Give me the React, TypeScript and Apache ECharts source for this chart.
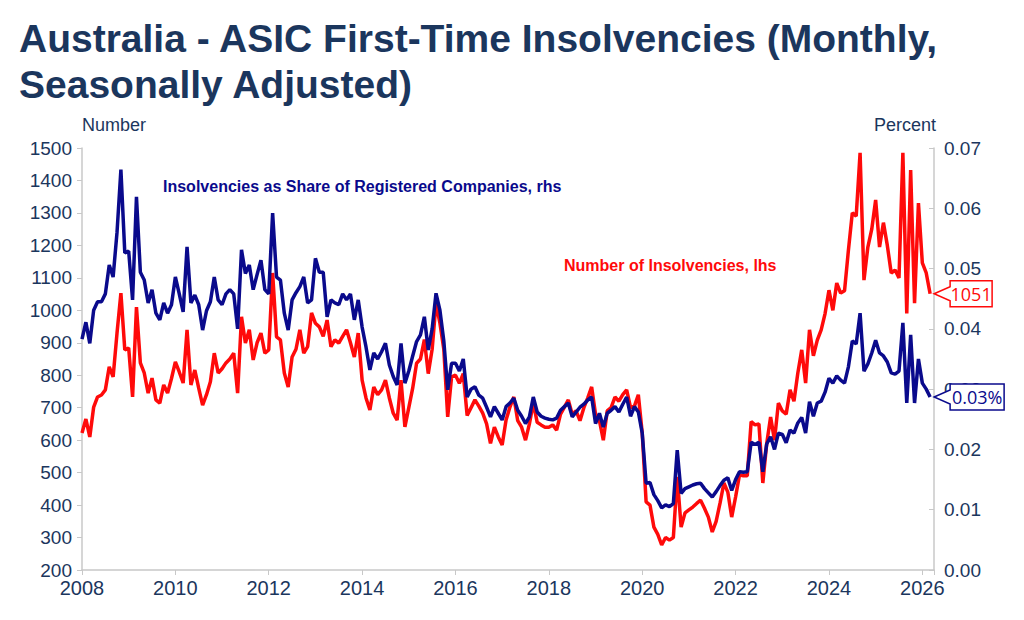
import React, { useEffect, useRef } from "react";
import * as echarts from "echarts";

const START_YEAR = 2008;
const xTicks = [2008, 2010, 2012, 2014, 2016, 2018, 2020, 2022, 2024, 2026];

// Number of insolvencies (lhs), monthly from Jan 2008
const insolvencies: number[] = [
  622, 665, 610, 702, 733, 739, 755, 826, 795, 930, 1053, 878,
  884, 733, 1010, 838, 807, 745, 791, 724, 714, 770, 745, 790,
  841, 810, 776, 940, 770, 816, 760, 708, 740, 780, 868, 807,
  820, 838, 850, 868, 745, 980, 899, 940, 847, 900, 930, 868,
  878, 1115, 918, 909, 807, 764, 856, 880, 940, 868, 888, 992,
  960, 949, 920, 970, 888, 909, 899, 920, 940, 900, 856, 930,
  785, 730, 693, 764, 740, 755, 785, 730, 683, 662, 785, 641,
  700, 760, 837, 850, 910, 805, 880, 1022, 960, 880, 672, 795,
  800, 775, 805, 676, 700, 724, 705, 683, 650, 590, 640, 610,
  585, 662, 702, 733, 660, 640, 600, 650, 715, 655, 647, 640,
  640, 647, 631, 680, 702, 724, 680, 690, 660, 700, 730, 764,
  680, 660, 600, 690, 700, 733, 720, 740, 755, 700, 705, 740,
  622, 410, 400, 332, 310, 277, 300, 292, 300, 487, 332, 376,
  385, 394, 405, 415, 390, 363, 317, 350, 406, 468, 440, 363,
  425, 493, 490, 490, 657, 647, 650, 468, 590, 671, 600, 714,
  690, 680, 755, 720, 807, 878, 776, 940, 860, 908, 940, 990,
  1062, 1000, 1084, 1053, 1060, 1185, 1300, 1290, 1485, 1093, 1195, 1250,
  1340, 1195, 1270, 1200, 1115, 1124, 1100, 1485, 990, 1432, 1022, 1330,
  1146, 1115, 1051,
];

// Insolvencies as share of registered companies (rhs, percent)
const share: number[] = [
  0.0383, 0.0411, 0.0376, 0.0431, 0.0445, 0.0445, 0.0458, 0.0506, 0.0486, 0.056, 0.0664, 0.0526,
  0.0529, 0.0448, 0.0619, 0.0494, 0.0481, 0.0443, 0.0465, 0.0426, 0.0415, 0.0443, 0.0426, 0.044,
  0.0486, 0.0458, 0.0428, 0.0536, 0.0443, 0.0456, 0.044, 0.0398, 0.043, 0.0445, 0.0486, 0.0448,
  0.044, 0.0458, 0.0465, 0.0458, 0.04, 0.0531, 0.0492, 0.0506, 0.0465, 0.049, 0.0514, 0.0465,
  0.0458, 0.0592, 0.0486, 0.0481, 0.0426, 0.0398, 0.0448, 0.046, 0.047, 0.0486, 0.0443, 0.0448,
  0.0517, 0.0494, 0.0494, 0.042, 0.0448, 0.0443, 0.044, 0.0458, 0.0448, 0.0458, 0.0415, 0.0448,
  0.0403, 0.037, 0.0332, 0.036, 0.035, 0.0362, 0.0376, 0.034, 0.0321, 0.0307, 0.0376, 0.031,
  0.033, 0.0355, 0.0379, 0.039, 0.042, 0.0365, 0.04, 0.0459, 0.0431, 0.038, 0.0299, 0.0343,
  0.0343, 0.033, 0.035, 0.0287, 0.03, 0.0304, 0.029, 0.0285, 0.027, 0.0254, 0.0271, 0.026,
  0.0249, 0.0271, 0.0277, 0.0285, 0.0265, 0.0255, 0.0243, 0.0254, 0.0287, 0.0262, 0.0255, 0.0252,
  0.025, 0.0249, 0.0252, 0.0265, 0.0271, 0.0277, 0.0254, 0.0262, 0.027, 0.0275, 0.0282, 0.0287,
  0.0243, 0.026, 0.0237, 0.026, 0.0265, 0.0271, 0.0262, 0.0275, 0.0287, 0.0255, 0.0271, 0.0262,
  0.0227, 0.0144, 0.0145, 0.0125, 0.0115, 0.0103, 0.0108, 0.0105, 0.011, 0.0199, 0.0127, 0.0135,
  0.0138, 0.0141, 0.0143, 0.0144, 0.0135, 0.0128, 0.0121, 0.013, 0.014, 0.0149, 0.0153, 0.0132,
  0.015, 0.0163, 0.0162, 0.0163, 0.0212, 0.0208, 0.0212, 0.0163, 0.0209, 0.0221, 0.02, 0.0227,
  0.0225, 0.0211, 0.0232, 0.0227, 0.0244, 0.0253, 0.0227, 0.0279, 0.0255, 0.0277, 0.028, 0.0295,
  0.0318, 0.031, 0.0322, 0.0315, 0.031, 0.0337, 0.038, 0.0375, 0.0426, 0.033, 0.0342, 0.036,
  0.0381, 0.036, 0.0355, 0.0345, 0.0327, 0.0325, 0.033, 0.041, 0.0277, 0.039, 0.0277, 0.035,
  0.031, 0.03, 0.0287,
];

const NAVY = "#1b365d";
const BLUE = "#0a0a8c";
const RED = "#ff0a0a";
const FONT = "Liberation Sans, Arial, sans-serif";

export default function App() {
  const ref = useRef<HTMLDivElement>(null);
  useEffect(() => {
    if (!ref.current) return;
    const chart = echarts.init(ref.current, null, { renderer: "svg" });
    const t = (i: number) => START_YEAR + i / 12;
    const redData = insolvencies.map((v, i) => [t(i), v]);
    const blueData = share.map((v, i) => [t(i), v]);
    const axisText = { color: NAVY, fontSize: 19, fontFamily: FONT };
    chart.setOption({
      animation: false,
      backgroundColor: "#fff",
      grid: { left: 82, right: 90, top: 148, bottom: 50, containLabel: false },
      title: {
        text: "Australia - ASIC First-Time Insolvencies (Monthly,\nSeasonally Adjusted)",
        left: 14,
        top: 10,
        textStyle: { color: NAVY, fontSize: 39, fontWeight: "bold", fontFamily: FONT, lineHeight: 46 },
      },
      xAxis: {
        type: "value",
        min: 2008,
        max: 2026.25,
        interval: 2,
        axisLine: { show: true, lineStyle: { color: "#c8c8c8", width: 1.5 } },
        axisTick: { show: true, lineStyle: { color: "#c8c8c8" }, length: 5 },
        splitLine: { show: false },
        axisLabel: { ...axisText, fontSize: 20, margin: 8, formatter: (v: number) => (xTicks.includes(v) ? String(v) : "") },
      },
      yAxis: [
        {
          type: "value",
          min: 200,
          max: 1500,
          interval: 100,
          name: "Number",
          nameLocation: "end",
          nameGap: 14,
          nameTextStyle: { ...axisText, fontSize: 18, align: "left" },
          axisLine: { show: true, lineStyle: { color: "#c8c8c8", width: 1.5 } },
          axisTick: { show: true, lineStyle: { color: "#c8c8c8" }, length: 5 },
          splitLine: { show: false },
          axisLabel: { ...axisText, margin: 10, formatter: (v: number) => String(v) },
        },
        {
          type: "value",
          min: 0,
          max: 0.07,
          interval: 0.01,
          name: "Percent",
          nameLocation: "end",
          nameGap: 14,
          nameTextStyle: { ...axisText, fontSize: 18, align: "right", padding: [0, -2, 0, 0] },
          axisLine: { show: true, lineStyle: { color: "#c8c8c8", width: 1.5 } },
          axisTick: { show: true, inside: true, lineStyle: { color: "#c8c8c8" }, length: 5 },
          splitLine: { show: false },
          axisLabel: { ...axisText, margin: 10, formatter: (v: number) => v.toFixed(2) },
        },
      ],
      series: [
        {
          name: "Number of Insolvencies, lhs",
          type: "line",
          yAxisIndex: 0,
          data: redData,
          showSymbol: false,
          lineStyle: { color: RED, width: 3.5 },
          itemStyle: { color: RED },
          z: 2,
        },
        {
          name: "Insolvencies as Share of Registered Companies, rhs",
          type: "line",
          yAxisIndex: 1,
          data: blueData,
          showSymbol: false,
          lineStyle: { color: BLUE, width: 3.5 },
          itemStyle: { color: BLUE },
          z: 3,
        },
      ],
    });

    const lastR = redData[redData.length - 1];
    const lastB = blueData[blueData.length - 1];
    const pr = chart.convertToPixel({ xAxisIndex: 0, yAxisIndex: 0 }, lastR) as number[];
    const pb = chart.convertToPixel({ xAxisIndex: 0, yAxisIndex: 1 }, lastB) as number[];
    const tag = (p: number[], txt: string, color: string, w: number) => {
      const x = p[0] + 4;
      const y = p[1];
      return [
        {
          type: "polygon",
          shape: {
            points: [
              [x, y], [x + 16, y - 7], [x + 16, y - 13], [x + 16 + w, y - 13],
              [x + 16 + w, y + 13], [x + 16, y + 13], [x + 16, y + 7],
            ],
          },
          style: { fill: "#fff", stroke: color, lineWidth: 1.5 },
          z: 10,
        },
        {
          type: "text",
          x: x + 16 + w / 2,
          y: y,
          style: { text: txt, fill: color, fontSize: 18, fontFamily: "Open Sans, sans-serif", align: "center", verticalAlign: "middle" },
          z: 11,
        },
      ];
    };
    chart.setOption({
      graphic: [
        {
          type: "text",
          left: 155,
          top: 172,
          z: 5,
          style: {
            text: "Insolvencies as Share of Registered Companies, rhs",
            fill: BLUE,
            fontSize: 16,
            fontWeight: "bold",
            fontFamily: FONT,
            backgroundColor: "#fff",
            padding: [6, 8],
          },
        },
        {
          type: "text",
          left: 556,
          top: 251,
          z: 5,
          style: {
            text: "Number of Insolvencies, lhs",
            fill: RED,
            fontSize: 16,
            fontWeight: "bold",
            fontFamily: FONT,
            backgroundColor: "#fff",
            padding: [6, 8],
          },
        },
        ...tag(pr, String(lastR[1]), RED, 42),
        ...tag(pb, "0.03%", BLUE, 54),
      ],
    });
    return () => chart.dispose();
  }, []);
  return <div ref={ref} style={{ width: 1024, height: 620, position: "absolute", left: 0, top: 0 }} />;
}
